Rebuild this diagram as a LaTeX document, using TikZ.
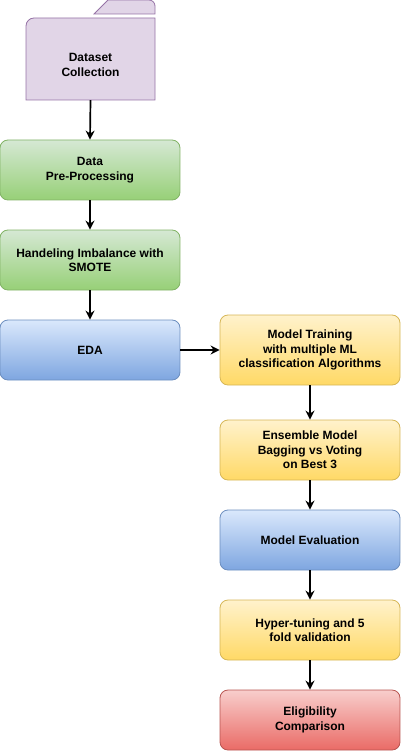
\documentclass[tikz,border=0pt]{standalone}
\usepackage{fontspec}
\setmainfont{Liberation Sans}
\usetikzlibrary{arrows.meta,positioning}
\definecolor{pfill}{HTML}{E1D5E7}\definecolor{pdraw}{HTML}{9673A6}
\definecolor{gtop}{HTML}{D5E8D4}\definecolor{gbot}{HTML}{97D077}\definecolor{gdraw}{HTML}{82B366}
\definecolor{btop}{HTML}{DAE8FC}\definecolor{bbot}{HTML}{7EA6E0}\definecolor{bdraw}{HTML}{6C8EBF}
\definecolor{ytop}{HTML}{FFF2CC}\definecolor{ybot}{HTML}{FFD966}\definecolor{ydraw}{HTML}{D6B656}
\definecolor{rtop}{HTML}{F8CECC}\definecolor{rbot}{HTML}{EA6B66}\definecolor{rdraw}{HTML}{B85450}
\tikzset{
  box/.style={rectangle, rounded corners=8pt, minimum width=180pt, minimum height=60pt,
    align=center, font=\fontsize{12pt}{14.5pt}\selectfont\bfseries, text=black, line width=0.8pt},
  gbox/.style={box, draw=gdraw, top color=gtop, bottom color=gbot},
  bbox/.style={box, draw=bdraw, top color=btop, bottom color=bbot},
  ybox/.style={box, draw=ydraw, top color=ytop, bottom color=ybot},
  rbox/.style={box, draw=rdraw, top color=rtop, bottom color=rbot},
  flow/.style={-{Stealth[length=9pt,width=9pt]}, line width=1.7pt, black}
}
\begin{document}
\begin{tikzpicture}[x=1pt,y=-1pt]
\useasboundingbox (0,0) rectangle (401,751);
% folder
\draw[pdraw,fill=pfill,line width=0.8pt] (94,14) -- (108,0) -- (149,0) arc[start angle=270,end angle=360,radius=6] -- (155,14) -- cycle;
\draw[pdraw,fill=pfill,line width=0.8pt] (26,100) -- (26,26) arc[start angle=180,end angle=270,radius=8] -- (155,18) -- (155,100) -- cycle;
\node[rectangle, minimum width=129pt, minimum height=82pt, inner sep=0pt] (dc) at (90.5,59) {};
\node[align=center, font=\fontsize{12pt}{14.5pt}\selectfont\bfseries] (dct) at (90.5,65) {Dataset\\Collection};
\node[gbox] (pre) at (90,170) {Data\\Pre-Processing};
\node[gbox] (smote) at (90,260) {Handeling Imbalance with\\SMOTE};
\node[bbox] (eda) at (90,350) {EDA};
\node[ybox, minimum height=70pt] (train) at (310,350) {Model Training\\with multiple ML\\classification Algorithms};
\node[ybox] (ens) at (310,450) {Ensemble Model\\Bagging vs Voting\\on Best 3};
\node[bbox] (eval) at (310,540) {Model Evaluation};
\node[ybox] (hyper) at (310,630) {Hyper-tuning and 5\\fold validation};
\node[rbox] (elig) at (310,720) {Eligibility\\Comparison};
\draw[flow] (dc.south) -- (pre.north);
\draw[flow] (pre) -- (smote);
\draw[flow] (smote) -- (eda);
\draw[flow] (eda) -- (train);
\draw[flow] (train) -- (ens);
\draw[flow] (ens) -- (eval);
\draw[flow] (eval) -- (hyper);
\draw[flow] (hyper) -- (elig);
\end{tikzpicture}
\end{document}
